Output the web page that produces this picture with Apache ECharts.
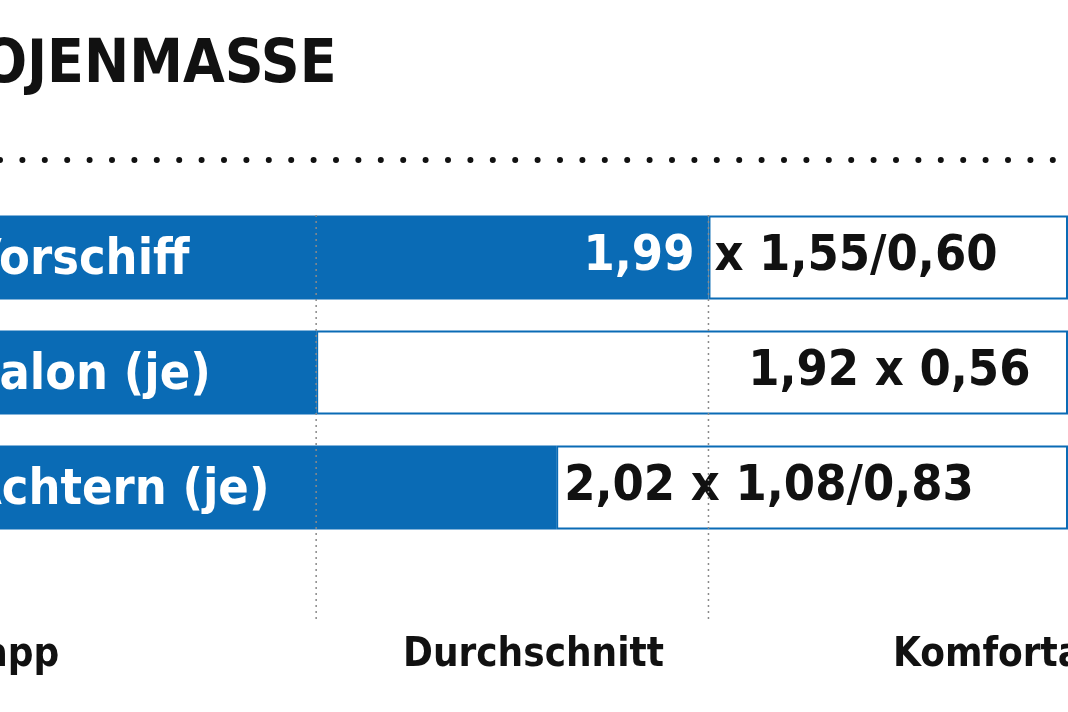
<!DOCTYPE html>
<html><head><meta charset="utf-8">
<script src="https://cdn.jsdelivr.net/npm/echarts@6/dist/echarts.min.js"></script>
<style>html,body{margin:0;background:#fff}#c{width:1068px;height:712px}</style>
</head><body><div id="c"></div>
<script>
// Kojenmaße: Balkenende markiert Einstufung (Skala in Pixeln der Grafik)
var rows = ['Vorschiff', 'Salon (je)', 'Achtern (je)'];
var barEnds = [735, 328, 577];
var scaleMax = 1108;
var blueText = ['1,99', '', ''];
var whiteText = ['x 1,55/0,60', '1,92 x 0,56', '2,02 x 1,08/0,83'];
var whitePad = [6, 432, 8];
var zoneLines = [328, 735];
var zoneNames = ['Knapp', 'Durchschnitt', 'Komfortabel'];
var blue = '#0a6bb5';
var font = '"DejaVu Sans Condensed", "DejaVu Sans", sans-serif';

var chart = echarts.init(document.getElementById('c'));
var option = {
  animation: false,
  grid: {left: 0, right: -40, top: 200, bottom: 167},
  xAxis: {type: 'value', min: 0, max: scaleMax, show: false},
  yAxis: {type: 'category', data: rows, inverse: true, show: false},
  series: [
    {
      type: 'bar', stack: 'a', barWidth: 84,
      itemStyle: {color: blue},
      data: barEnds.map(function (v, i) {
        return {value: v, label: {
          show: true, position: 'insideRight', distance: 14,
          formatter: blueText[i], color: '#fff', fontFamily: font, fontWeight: 'bold', fontSize: 50
        }};
      })
    },
    {
      type: 'bar', stack: 'a', barWidth: 84,
      itemStyle: {color: '#fff', borderColor: blue, borderWidth: 2},
      data: barEnds.map(function (v, i) {
        return {value: scaleMax - v, label: {
          show: true, position: 'insideLeft', distance: whitePad[i],
          formatter: whiteText[i], color: '#111', fontFamily: font, fontWeight: 'bold', fontSize: 50
        }};
      })
    },
    {
      // Zeilennamen (links abgeschnitten)
      type: 'bar', barGap: '-100%', barWidth: 84,
      itemStyle: {color: 'transparent'},
      data: barEnds.map(function () {
        return {value: 1, label: {
          show: true, position: 'insideLeft', offset: [-38, 4],
          formatter: '{b}', color: '#fff', fontFamily: font, fontWeight: 'bold', fontSize: 50
        }};
      })
    }
  ]
};
chart.setOption(option);

var g = [
  {type: 'text', left: -58, top: 36, style: {text: 'KOJENMASSE', font: 'bold 60px ' + font, fill: '#111'}},
  {type: 'line', shape: {x1: 0, y1: 160, x2: 1068, y2: 160},
    style: {stroke: '#111', lineWidth: 6, lineCap: 'round', lineDash: [0, 22.4]}}
];
zoneLines.forEach(function (v) {
  var x = chart.convertToPixel({gridIndex: 0}, [v, 0])[0];
  g.push({type: 'line', z: 10, shape: {x1: x, y1: 215, x2: x, y2: 620},
    style: {stroke: '#8a8a8a', lineWidth: 1.5, lineDash: [2, 4]}});
});
g.push({type: 'text', left: -70, top: 636, style: {text: zoneNames[0], font: 'bold 40px ' + font, fill: '#111'}});
g.push({type: 'text', left: 403, top: 636, style: {text: zoneNames[1], font: 'bold 40px ' + font, fill: '#111'}});
g.push({type: 'text', left: 893, top: 636, style: {text: zoneNames[2], font: 'bold 40px ' + font, fill: '#111'}});
chart.setOption({graphic: g});
</script>
</body></html>
